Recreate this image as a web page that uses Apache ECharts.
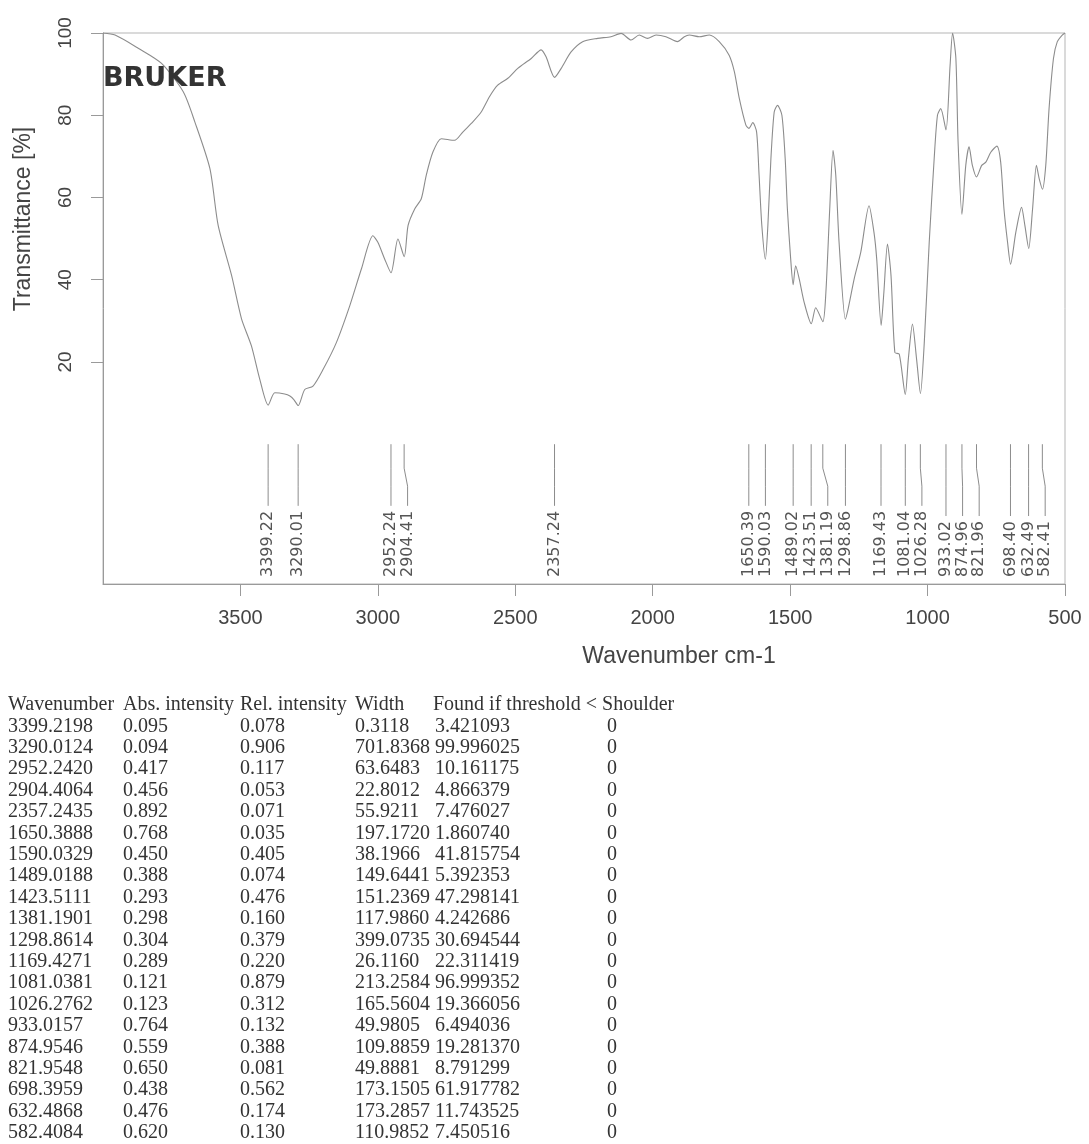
<!DOCTYPE html>
<html><head><meta charset="utf-8">
<script src="https://cdn.jsdelivr.net/npm/echarts@6/dist/echarts.min.js"></script>
<style>html,body{margin:0;padding:0;background:#fff;}#chart{width:1089px;height:1144px;}</style>
</head><body><div id="chart"></div>
<script>
// ---- spectrum ----
const wavenumbers = [4000,3956,3872,3787,3708,3666,3611,3581,3532,3496,3460,3430,3399,3375,3339,3320,3305,3290,3266,3236,3199,3151,3102,3060,3018,3000,2975,2952,2927,2904,2890,2866,2842,2824,2800,2769,2721,2691,2660,2624,2594,2564,2527,2491,2442,2406,2388,2357,2333,2297,2255,2200,2152,2115,2079,2049,2019,1988,1952,1910,1885,1867,1831,1794,1758,1722,1703,1685,1661,1650,1636,1622,1613,1603,1590,1581,1570,1558,1546,1530,1518,1510,1498,1489,1480,1467,1449,1423,1407,1381,1370,1356,1344,1334,1322,1299,1289,1267,1243,1213,1195,1185,1169,1159,1146,1133,1119,1103,1081,1070,1055,1040,1026,1012,994,976,964,952,933,918,909,897,889,875,861,849,837,822,803,788,770,748,734,722,709,698,679,658,646,632,618,604,594,582,570,558,542,528,510,500];
const transmittance = [100,99.5,96.3,92.6,85.7,78.4,67,53.2,41,30.5,23.9,15.9,9.5,12.5,12.2,11.7,10.8,9.4,13.3,14.1,18.2,24.7,33.7,42.6,50.7,49.1,45,41.7,49.9,45.6,53.2,57.2,59.7,65.4,71,74.3,73.9,75.9,78,80.8,84.5,87.3,89,91.4,93.8,95.9,94.2,89.2,91.4,95.4,97.9,98.7,99.1,99.9,98.3,99.5,98.7,99.5,99.1,97.9,99.1,99.5,99.1,99.5,97.9,94.6,90.6,84.1,77.6,76.8,78.2,75.9,65.4,53.2,45.0,53.2,69.4,80.8,82.4,80,69.4,57.2,45,38.8,43.4,40.2,34.5,29.3,33.2,29.8,36.9,57.2,71.5,65.4,49.1,30.4,32.9,40.2,46.7,58,51.5,45,28.9,36.9,48.7,41,22.3,21.9,12.1,20.7,29.2,20.7,12.3,24.7,49.1,69.4,80,81.6,76.4,92.2,100,93.8,73.5,55.9,67.8,72.3,67.8,65,67.8,68.6,71,72.5,68.6,57.2,49.1,43.8,51.5,57.6,53.2,47.6,57.2,67.8,64.6,62,67.8,81.6,93.8,97.9,99.5,100];

// ---- axes ----
const xTicks = [3500,3000,2500,2000,1500,1000,500];
const yTicks = [20,40,60,80,100];

// ---- peak picking ----
const peakPositions = [3399.2198,3290.0124,2952.2420,2904.4064,2357.2435,1650.3888,1590.0329,1489.0188,1423.5111,1381.1901,1298.8614,1169.4271,1081.0381,1026.2762,933.0157,874.9546,821.9548,698.3959,632.4868,582.4084];
const peakLabels = ['3399.22','3290.01','2952.24','2904.41','2357.24','1650.39','1590.03','1489.02','1423.51','1381.19','1298.86','1169.43','1081.04','1026.28','933.02','874.96','821.96','698.40','632.49','582.41'];

// ---- peak table ----
const tableHeader = ['Wavenumber','Abs. intensity','Rel. intensity','Width','Found if threshold < Shoulder'];
const colWavenumber = ['3399.2198','3290.0124','2952.2420','2904.4064','2357.2435','1650.3888','1590.0329','1489.0188','1423.5111','1381.1901','1298.8614','1169.4271','1081.0381','1026.2762','933.0157','874.9546','821.9548','698.3959','632.4868','582.4084'];
const colAbs = ['0.095','0.094','0.417','0.456','0.892','0.768','0.450','0.388','0.293','0.298','0.304','0.289','0.121','0.123','0.764','0.559','0.650','0.438','0.476','0.620'];
const colRel = ['0.078','0.906','0.117','0.053','0.071','0.035','0.405','0.074','0.476','0.160','0.379','0.220','0.879','0.312','0.132','0.388','0.081','0.562','0.174','0.130'];
const colWidth = ['0.3118','701.8368','63.6483','22.8012','55.9211','197.1720','38.1966','149.6441','151.2369','117.9860','399.0735','26.1160','213.2584','165.5604','49.9805','109.8859','49.8881','173.1505','173.2857','110.9852'];
const colFound = ['3.421093','99.996025','10.161175','4.866379','7.476027','1.860740','41.815754','5.392353','47.298141','4.242686','30.694544','22.311419','96.999352','19.366056','6.494036','19.281370','8.791299','61.917782','11.743525','7.450516'];
const colShoulder = ['0','0','0','0','0','0','0','0','0','0','0','0','0','0','0','0','0','0','0','0'];

const Y_MIN = -34, Y_MAX = 100;
const labelFont = '16px "DejaVu Sans"';
const measureCtx = document.createElement('canvas').getContext('2d');
measureCtx.font = labelFont;
const labelLen = peakLabels.map(s => measureCtx.measureText(s).width);

const chart = echarts.init(document.getElementById('chart'), null, {renderer: 'canvas'});

// table graphics
const tableFont = '20px "Liberation Serif"';
const colLeft = [8, 123, 240, 355, 435];
const headerLeft = [8, 123, 240, 355, 433];
const headerY = 705, rowStep = 21.4;
const tableEls = [];
tableHeader.forEach((h, j) => {
  tableEls.push({type: 'text', x: headerLeft[j], y: headerY,
    style: {text: h, font: tableFont, fill: '#333', textVerticalAlign: 'middle', textAlign: 'left'}});
});
const cols = [colWavenumber, colAbs, colRel, colWidth, colFound];
for (let r = 0; r < colWavenumber.length; r++) {
  const y = headerY + rowStep * (r + 1);
  cols.forEach((c, j) => {
    tableEls.push({type: 'text', x: colLeft[j], y: y,
      style: {text: c[r], font: tableFont, fill: '#333', textVerticalAlign: 'middle', textAlign: 'left'}});
  });
  tableEls.push({type: 'text', x: 612, y: y,
    style: {text: colShoulder[r], font: tableFont, fill: '#333', textVerticalAlign: 'middle', textAlign: 'center'}});
}

const option = {
  animation: false,
  backgroundColor: '#fff',
  grid: {left: 103, right: 24, top: 33, bottom: 560, show: true, borderColor: '#b5b5b5', borderWidth: 1},
  xAxis: {
    type: 'value', inverse: true, min: 500, max: 4000,
    axisLine: {show: true, onZero: false, lineStyle: {color: '#9a9a9a'}},
    axisTick: {show: true, customValues: xTicks, length: 12, inside: false, lineStyle: {color: '#9a9a9a'}},
    axisLabel: {customValues: xTicks, fontSize: 20, color: '#444', fontFamily: 'Liberation Sans', margin: 24,
      formatter: v => String(v)},
    splitLine: {show: false}
  },
  yAxis: {
    type: 'value', min: Y_MIN, max: Y_MAX,
    axisLine: {show: true, onZero: false, lineStyle: {color: '#9a9a9a'}},
    axisTick: {show: true, customValues: yTicks, length: 12, lineStyle: {color: '#9a9a9a'}},
    axisLabel: {customValues: yTicks, rotate: 90, fontSize: 19, color: '#444', fontFamily: 'Liberation Sans', margin: 28,
      formatter: v => String(v)},
    splitLine: {show: false}
  },
  graphic: [
    {type: 'text', x: 24, y: 219, rotation: Math.PI / 2,
      style: {text: 'Transmittance [%]', font: '23px "Liberation Sans"', fill: '#444', textAlign: 'center', textVerticalAlign: 'middle'}},
    {type: 'text', x: 679, y: 657,
      style: {text: 'Wavenumber cm-1', font: '23px "Liberation Sans"', fill: '#444', textAlign: 'center', textVerticalAlign: 'middle'}},
    {type: 'text', x: 103, y: 79, z: 100,
      style: {text: 'BRUKER', font: 'bold 27px "DejaVu Sans"', fill: '#333', textAlign: 'left', textVerticalAlign: 'middle'}}
  ].concat(tableEls),
  series: [
    {
      type: 'line', data: wavenumbers.map((w, i) => [w, transmittance[i]]),
      showSymbol: false, smooth: 0.25, lineStyle: {color: '#8c8c8c', width: 1.1}, silent: true, z: 2
    },
    {
      type: 'custom', coordinateSystem: 'cartesian2d', silent: true, clip: false,
      data: peakPositions.map((p, i) => [p, 0, i]),
      encode: {x: 0, y: 1},
      renderItem: function (params, api) {
        const i = params.dataIndex;
        const xs = peakPositions.map(p => api.coord([p, 0])[0]);
        const lx = [];
        for (let k = 0; k < xs.length; k++) {
          lx[k] = k === 0 ? xs[k] : Math.max(xs[k], lx[k - 1] + 16.6);
        }
        const y0 = api.coord([peakPositions[i], 0])[1];
        const bottom = api.coord([peakPositions[i], Y_MIN])[1] - 7;
        const top = bottom - labelLen[i];
        const tx = xs[i], x2 = lx[i];
        return {
          type: 'group',
          children: [
            {type: 'polyline', shape: {points: [[tx, y0], [tx, y0 + 24], [x2, y0 + 42], [x2, top - 5]]},
              style: {stroke: '#8c8c8c', fill: null, lineWidth: 1}},
            {type: 'text', x: x2, y: bottom, rotation: Math.PI / 2,
              style: {text: peakLabels[i], font: labelFont, fill: '#555', textAlign: 'left', textVerticalAlign: 'middle'}}
          ]
        };
      }
    }
  ]
};
chart.setOption(option);
</script></body></html>
